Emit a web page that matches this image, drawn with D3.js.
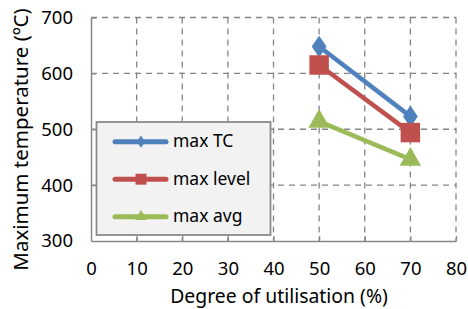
<!DOCTYPE html>
<html>
<head>
<meta charset="utf-8">
<script src="https://cdn.jsdelivr.net/npm/d3@7"></script>
<style>
  body { margin: 0; background: #fff; }
  text { font-family: "Noto Sans", sans-serif; fill: #000; }
</style>
</head>
<body>
<svg id="chart"></svg>
<script>
// Chart data
const utilisation = [50, 70];
const maxTC = [648, 523];
const maxLevel = [615, 494];
const maxAvg = [514, 446];
const seriesNames = ["max TC", "max level", "max avg"];
const xTicks = [0, 10, 20, 30, 40, 50, 60, 70, 80];
const yTicks = [300, 400, 500, 600, 700];

const width = 468, height = 309;
const margin = { top: 17.5, right: 12, bottom: 68, left: 91 };

const svg = d3.select("#chart")
    .attr("width", width)
    .attr("height", height);

const xScale = d3.scaleLinear()
    .domain([0, 80])
    .range([margin.left, width - margin.right]);

const yScale = d3.scaleLinear()
    .domain([300, 700])
    .range([height - margin.bottom, margin.top]);

// Dashed gridlines
svg.append("g")
    .selectAll("line")
    .data(xTicks.slice(1))
    .enter()
    .append("line")
    .attr("x1", d => xScale(d)).attr("x2", d => xScale(d))
    .attr("y1", yScale(700)).attr("y2", yScale(300))
    .attr("stroke", "#858585")
    .attr("stroke-width", 1.3)
    .attr("stroke-dasharray", "6,5");

svg.append("g")
    .selectAll("line")
    .data(yTicks.slice(1))
    .enter()
    .append("line")
    .attr("x1", xScale(0)).attr("x2", xScale(80))
    .attr("y1", d => yScale(d)).attr("y2", d => yScale(d))
    .attr("stroke", "#858585")
    .attr("stroke-width", 1.3)
    .attr("stroke-dasharray", "6,5");

// Axes
const xAxis = svg.append("g")
    .attr("transform", `translate(0,${yScale(300)})`)
    .call(d3.axisBottom(xScale).tickValues(xTicks).tickSizeInner(-5).tickSizeOuter(0).tickPadding(21));
const yAxis = svg.append("g")
    .attr("transform", `translate(${xScale(0)},0)`)
    .call(d3.axisLeft(yScale).tickValues(yTicks).tickSizeInner(-5).tickSizeOuter(0).tickPadding(18));

[xAxis, yAxis].forEach(a => {
    a.select(".domain").attr("stroke", "#888").attr("stroke-width", 1.5);
    a.selectAll(".tick line").attr("stroke", "#888").attr("stroke-width", 1.3);
    a.selectAll(".tick text").style("font-size", "18.5px").attr("fill", "#000");
});
xAxis.selectAll(".tick").filter(d => d === 0).select("line").remove();
yAxis.selectAll(".tick").filter(d => d === 300).select("line").remove();

// Axis titles
svg.append("text")
    .attr("x", 279)
    .attr("y", 302.5)
    .attr("text-anchor", "middle")
    .style("font-size", "19.4px")
    .text("Degree of utilisation (%)");

svg.append("text")
    .attr("transform", "translate(28,139.5) rotate(-90)")
    .attr("text-anchor", "middle")
    .style("font-size", "20.5px")
    .text("Maximum temperature (ºC)");

// Series
const series = [
    { name: seriesNames[0], values: maxTC, color: "#4f81bd", symbol: d3.symbolDiamond },
    { name: seriesNames[1], values: maxLevel, color: "#c0504d", symbol: d3.symbolSquare },
    { name: seriesNames[2], values: maxAvg, color: "#9bbb59", symbol: d3.symbolTriangle }
];

// Legend box (drawn under the lines)
const legend = svg.append("g");
legend.append("rect")
    .attr("x", 96.5).attr("y", 122)
    .attr("width", 174).attr("height", 113)
    .attr("fill", "#f2f2f2")
    .attr("stroke", "#8a8a8a")
    .attr("stroke-width", 1.8);

const line = d3.line()
    .x((d, i) => xScale(utilisation[i]))
    .y(d => yScale(d));

const symbolSizes = [190, 380, 200];
const legendSizes = [60, 120, 60];

series.forEach((s, k) => {
    svg.append("path")
        .datum(s.values)
        .attr("d", line)
        .attr("fill", "none")
        .attr("stroke", s.color)
        .attr("stroke-width", 4.5);

    svg.selectAll(".pt" + k)
        .data(s.values)
        .enter()
        .append("path")
        .attr("transform", (d, i) => `translate(${xScale(utilisation[i])},${yScale(d)})` + (k === 0 ? " scale(1,0.85)" : ""))
        .attr("d", d3.symbol().type(s.symbol).size(symbolSizes[k]))
        .attr("fill", s.color);

    const ly = 141.7 + k * 37.5;
    legend.append("line")
        .attr("x1", 115).attr("x2", 166)
        .attr("y1", ly).attr("y2", ly)
        .attr("stroke", s.color)
        .attr("stroke-width", 5)
        .attr("stroke-linecap", "round");
    legend.append("path")
        .attr("transform", `translate(141,${ly})` + (k === 0 ? " scale(1,0.85)" : ""))
        .attr("d", d3.symbol().type(s.symbol).size(legendSizes[k]))
        .attr("fill", s.color);
    legend.append("text")
        .attr("x", 173)
        .attr("y", ly + 5.5)
        .style("font-size", "17.5px")
        .text(s.name);
});
</script>
</body>
</html>
